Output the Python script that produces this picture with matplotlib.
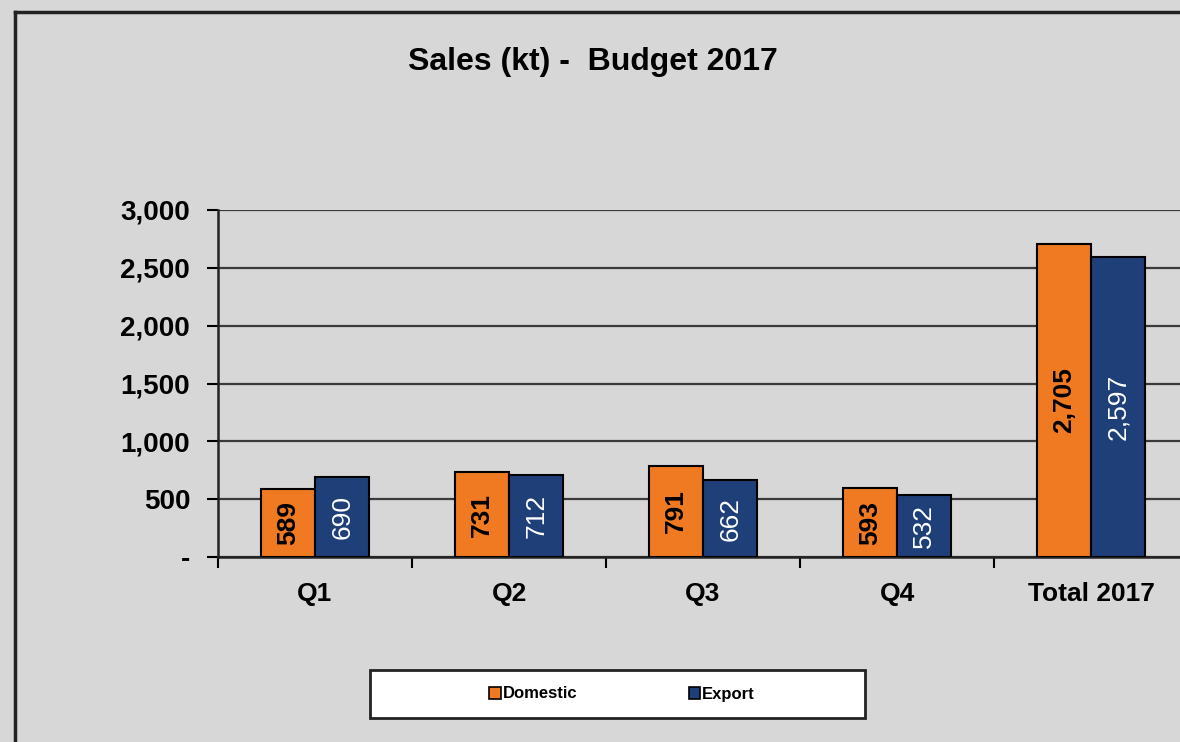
import matplotlib
matplotlib.use("Agg")
import matplotlib.pyplot as plt
from matplotlib.lines import Line2D
from matplotlib.patches import Rectangle, Patch
import numpy as np

categories = ["Q1", "Q2", "Q3", "Q4", "Total 2017"]
domestic = [589, 731, 791, 593, 2705]
export = [690, 712, 662, 532, 2597]
yticks = [0, 500, 1000, 1500, 2000, 2500, 3000]
ytick_labels = ["-", "500", "1,000", "1,500", "2,000", "2,500", "3,000"]

plt.rcParams['font.family'] = ['Liberation Sans', 'DejaVu Sans']

W, H = 1180, 742
fig = plt.figure(figsize=(W / 100, H / 100), dpi=100)
bg = "#d7d7d7"
fig.patch.set_facecolor(bg)

ax = fig.add_axes([218 / W, 185 / H, (1188 - 218) / W, (557 - 210) / H])
ax.set_facecolor(bg)

x = np.arange(len(categories))
bw = 0.28
orange = "#f07a22"
blue = "#1e3f78"
b1 = ax.bar(x - bw / 2, domestic, bw, color=orange, edgecolor="black", linewidth=1.5, zorder=3, label="Domestic")
b2 = ax.bar(x + bw / 2, export, bw, color=blue, edgecolor="black", linewidth=1.5, zorder=3, label="Export")

ax.bar_label(b1, labels=[f"{v:,}" for v in domestic], label_type="center", rotation=90,
             fontsize=19, fontweight="bold", color="black")
ax.bar_label(b2, labels=[f"{v:,}" for v in export], label_type="center", rotation=90,
             fontsize=19, color="white")

ax.set_xlim(-0.5, len(categories) - 0.5)
ax.set_ylim(0, 3000)
ax.set_yticks(yticks)
ax.set_yticklabels(ytick_labels, fontsize=20, fontweight="bold")
ax.set_xticks(x)
ax.set_xticklabels(categories, fontsize=19, fontweight="bold")
ax.tick_params(axis="x", length=0, pad=18)
ax.tick_params(axis="y", length=8, width=1.5, pad=12)
ax.set_xticks(np.arange(len(categories) + 1) - 0.5, minor=True)
ax.tick_params(axis="x", which="minor", length=8, width=1.5, direction="out")

ax.grid(axis="y", color="#3a3a3a", linewidth=1.6, zorder=0)
for s in ["top", "right"]:
    ax.spines[s].set_visible(False)
for s in ["left", "bottom"]:
    ax.spines[s].set_linewidth(1.8)
    ax.spines[s].set_color("#222222")

fig.text(593 / W, 1 - 62 / H, "Sales (kt) -  Budget 2017", ha="center", va="center",
         fontsize=23, fontweight="bold")

# outer frame
fig.add_artist(Line2D([15 / W, 1.0], [1 - 12 / H, 1 - 12 / H], color="#222222", linewidth=2.5))
fig.add_artist(Line2D([15 / W, 15 / W], [0, 1 - 12 / H], color="#222222", linewidth=2.5))

# legend box
fig.add_artist(Rectangle((370 / W, 1 - 718 / H), (865 - 370) / W, (718 - 670) / H,
                         transform=fig.transFigure, facecolor="white", edgecolor="#222222", linewidth=2))
handles = [Patch(facecolor=orange, edgecolor="black", linewidth=1.2),
           Patch(facecolor=blue, edgecolor="black", linewidth=1.2)]
leg = fig.legend(handles, ["Domestic", "Export"], loc="center", bbox_to_anchor=(622 / W, 1 - 694 / H),
                 ncol=2, frameon=False, handlelength=0.7, handleheight=0.7, handletextpad=0.1,
                 columnspacing=6.7, prop={"weight": "bold", "size": 12})

fig.savefig("out.png", dpi=100, facecolor=fig.get_facecolor())
